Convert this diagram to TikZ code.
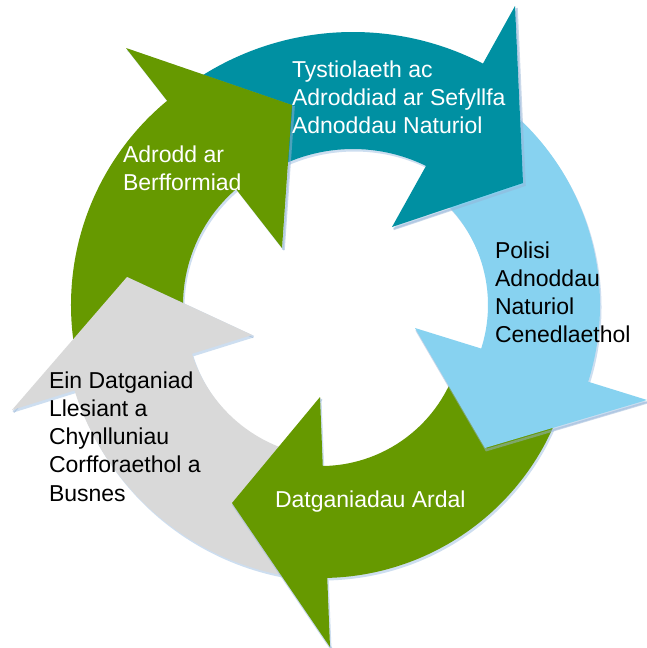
\documentclass[tikz,border=0pt]{standalone}
\usepackage{fontspec}
\setmainfont{Liberation Sans}
\definecolor{cgreen}{RGB}{102,153,0}
\definecolor{cteal}{RGB}{0,144,162}
\definecolor{clight}{RGB}{135,210,240}
\definecolor{cgray}{RGB}{217,217,217}
\definecolor{cshadow}{RGB}{205,222,240}
\definecolor{cshadowdk}{RGB}{150,180,215}
% band: centre x, centre y, start angle, end angle, outer radius, inner radius
\newcommand{\bandpath}[6]{(#1,#2) ++(#3:#5) arc[start angle=#3, end angle=#4, radius=#5] -- ++({#4+180}:{#5-#6}) arc[start angle=#4, end angle=#3, radius=#6] -- cycle}
\newcommand{\mylines}[1]{\begin{tabular}[t]{@{}l@{}}#1\end{tabular}}
\newcommand{\bandA}{\bandpath{336}{305}{-195}{-127}{265}{153}}
\newcommand{\bandB}{\bandpath{353}{315}{-126}{-61}{283}{166}}
\newcommand{\bandC}{\bandpath{345}{305}{-54}{19.5}{255}{143}}
\newcommand{\bandD}{\bandpath{321}{324}{15}{91.5}{254}{142}}
\newcommand{\bandE}{\bandpath{333}{309}{-263}{-196}{271}{148}}
\newcommand{\headA}{(126,48) -- (292,105) -- (282,248) -- cycle}
\newcommand{\headB}{(515,6) -- (523,183) -- (392,227) -- cycle}
\newcommand{\headC}{(647,400) -- (485,448) -- (415,328) -- cycle}
\newcommand{\headD}{(330,647) -- (232,503) -- (320,397) -- cycle}
\newcommand{\headE}{(12,410) -- (127,277) -- (252,335) -- cycle}
\newcommand{\edgeA}{(126,48) -- (292,105) -- (282,248)}
\newcommand{\edgeB}{(515,6) -- (523,183) -- (392,227)}
\newcommand{\edgeC}{(647,400) -- (485,448) -- (415,328)}
\newcommand{\edgeD}{(330,647) -- (232,503) -- (320,397)}
\newcommand{\edgeE}{(12,410) -- (127,277) -- (252,335)}
\begin{document}
\begin{tikzpicture}[x=1pt,y=-1pt,
  lbl/.style={inner sep=0pt, outer sep=0pt, anchor=base west, font=\fontsize{23}{28.3}\selectfont},
  wlbl/.style={lbl, text=white},
  blbl/.style={lbl, text=black},
  shadowfill/.style={fill=cshadow},
  headshadow/.style={draw=cshadowdk, line width=2.5pt, opacity=0.5}]
\useasboundingbox (0,0) rectangle (646,648);
\fill[white] (0,0) rectangle (646,648);
% drop shadows
\begin{scope}[shift={(1.5,2.5)}]
  \fill[shadowfill] \bandA;
  \fill[shadowfill] \bandB;
  \fill[shadowfill] \bandC;
  \fill[shadowfill] \bandD;
  \fill[shadowfill] \bandE;
  \fill[shadowfill] \headA;
  \fill[shadowfill] \headB;
  \fill[shadowfill] \headC;
  \fill[shadowfill] \headD;
  \fill[shadowfill] \headE;
\end{scope}
% bands
\fill[cgreen] \bandA;
\fill[cteal] \bandB;
\fill[clight] \bandC;
\fill[cgreen] \bandD;
\fill[cgray] \bandE;
% heads
\begin{scope}[shift={(1.5,2)}]
  \draw[headshadow] \edgeA;
\end{scope}
\fill[cgreen] \headA;
\begin{scope}[shift={(1.5,2)}]
  \draw[headshadow] \edgeB;
\end{scope}
\fill[cteal] \headB;
\begin{scope}[shift={(1.5,2)}]
  \draw[headshadow] \edgeC;
\end{scope}
\fill[clight] \headC;
\begin{scope}[shift={(1.5,2)}]
  \draw[headshadow] \edgeD;
\end{scope}
\fill[cgreen] \headD;
\begin{scope}[shift={(1.5,2)}]
  \draw[headshadow] \edgeE;
\end{scope}
\fill[cgray] \headE;
% labels
\node[wlbl] (tB) at (292,77) {\mylines{Tystiolaeth ac\\Adroddiad ar Sefyllfa\\Adnoddau Naturiol}};
\node[wlbl] (tA) at (123,162) {\mylines{Adrodd ar\\Berfformiad}};
\node[blbl] (tC) at (495,258) {\mylines{Polisi\\Adnoddau\\Naturiol\\Cenedlaethol}};
\node[blbl] (tE) at (49,388) {\mylines{Ein Datganiad\\Llesiant a\\Chynlluniau\\Corfforaethol a\\Busnes}};
\node[wlbl] (tD) at (275,507) {Datganiadau Ardal};
\end{tikzpicture}
\end{document}
